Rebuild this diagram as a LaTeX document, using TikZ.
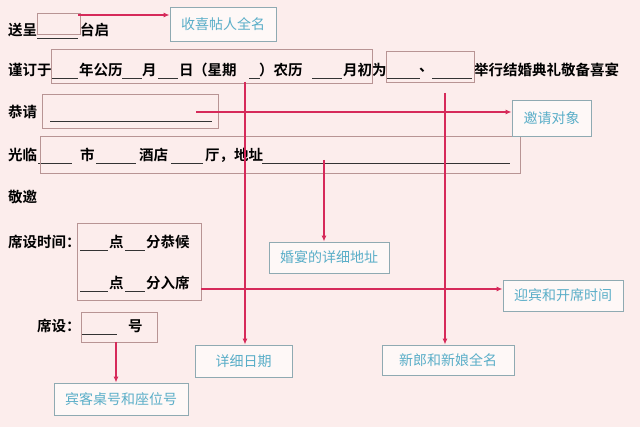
\documentclass[tikz,border=0pt]{standalone}
\usepackage{fontspec}
\usetikzlibrary{arrows.meta}
\newfontfamily\cjk{Noto Sans CJK SC}
\newfontfamily\cjkb{Noto Sans CJK SC Bold}
\definecolor{bgc}{HTML}{FCEDEC}
\definecolor{arr}{HTML}{D62A5A}
\definecolor{frm}{HTML}{B89494}
\definecolor{lblb}{HTML}{8FAAB2}
\definecolor{lblt}{HTML}{5AAEC8}
\tikzset{
 txt/.style={anchor=west,inner sep=0pt,font=\cjkb\fontsize{14.5}{15}\selectfont},
 blank/.style={draw=black!80,line width=0.6pt},
 frame/.style={draw=frm,line width=0.8pt},
 lbl/.style={draw=lblb,line width=0.9pt,fill=white!60!bgc,text=lblt,font=\cjk\fontsize{14}{15}\selectfont,inner sep=0pt},
 con/.style={draw=arr,line width=1.1pt,-{Latex[length=6pt,width=5pt]}}}
\begin{document}
\begin{tikzpicture}[x=1pt,y=-1pt]
\fill[bgc] (0,0) rectangle (640,427);
\useasboundingbox (0,0) rectangle (640,427);
% row 1
\node[txt] (a1) at (8,30) {送呈};
\node[txt] (a2) at (80,30) {台启};
\draw[blank] (37,38) -- (78,38);
% row 2
\node[txt] (b1) at (8,70) {谨订于};
\node[txt] (b2) at (79,70) {年公历};
\node[txt] (b3) at (142,70) {月};
\node[txt] (b4) at (179,70) {日};
\node[txt] (b5) at (193,70) {（星期};
\node[txt] (b6) at (259,70) {）农历};
\node[txt] (b7) at (343,70) {月初为};
\node[txt] (b8) at (419,70) {、};
\node[txt] (b9) at (474,70) {举行结婚典礼敬备喜宴};
\foreach \a/\b in {52/78,122/142,158/178,249/260,312/342,387/420,432/472}
  \draw[blank] (\a,78) -- (\b,78);
% row 3
\node[txt] (c1) at (8,112) {恭请};
\draw[blank] (50,121) -- (212,121);
% row 4
\node[txt] (d1) at (8,155) {光临};
\node[txt] (d2) at (80,155) {市};
\node[txt] (d3) at (139,155) {酒店};
\node[txt] (d4) at (205,155) {厅，地址};
\foreach \a/\b in {38/72,96/136,171/203,262/510}
  \draw[blank] (\a,163) -- (\b,163);
% row 5
\node[txt] (e1) at (8,197) {敬邀};
% row 6,7
\node[txt] (f1) at (8,242) {席设时间：};
\node[txt] (f2) at (109,242) {点};
\node[txt] (f3) at (146,242) {分恭候};
\node[txt] (g2) at (109,283) {点};
\node[txt] (g3) at (146,283) {分入席};
\foreach \y in {250,291} {
  \draw[blank] (80,\y) -- (108,\y);
  \draw[blank] (125,\y) -- (145,\y);}
% row 8
\node[txt] (h1) at (37,326) {席设：};
\node[txt] (h2) at (128,326) {号};
\draw[blank] (81,334) -- (117,334);
% frames
\draw[frame] (37,13) rectangle (80,34);
\draw[frame] (51,49) rectangle (372,83);
\draw[frame] (386,51) rectangle (474,82);
\draw[frame] (42,94) rectangle (218,128);
\draw[frame] (40,136) rectangle (520,173);
\draw[frame] (77,223) rectangle (201,300);
\draw[frame] (81,312) rectangle (157,342);
% labels
\node[lbl,minimum width=106pt,minimum height=34pt] (l1) at (223,24) {收喜帖人全名};
\node[lbl,minimum width=79pt,minimum height=36pt] (l2) at (551.5,118) {邀请对象};
\node[lbl,minimum width=120pt,minimum height=31pt] (l3) at (329,257.5) {婚宴的详细地址};
\node[lbl,minimum width=120pt,minimum height=31pt] (l4) at (563,295.5) {迎宾和开席时间};
\node[lbl,minimum width=97pt,minimum height=32pt] (l5) at (243.5,361) {详细日期};
\node[lbl,minimum width=132pt,minimum height=30pt] (l6) at (448,360) {新郎和新娘全名};
\node[lbl,minimum width=134pt,minimum height=32pt] (l7) at (121,399) {宾客桌号和座位号};
% connectors
\coordinate (k1) at (78,15);
\coordinate (k2) at (196,112);
\coordinate (k3) at (324,160);
\coordinate (k4) at (201,289);
\coordinate (k5) at (245,82);
\coordinate (k6) at (445,93);
\coordinate (k7) at (116,342);
\draw[con] (k1) -- (l1.west|-k1);
\draw[con] (k2) -- (l2.west|-k2);
\draw[con] (k3) -- (k3|-l3.north);
\draw[con] (k4) -- (l4.west|-k4);
\draw[con] (k5) -- (k5|-l5.north);
\draw[con] (k6) -- (k6|-l6.north);
\draw[con] (k7) -- (k7|-l7.north);
\end{tikzpicture}
\end{document}
